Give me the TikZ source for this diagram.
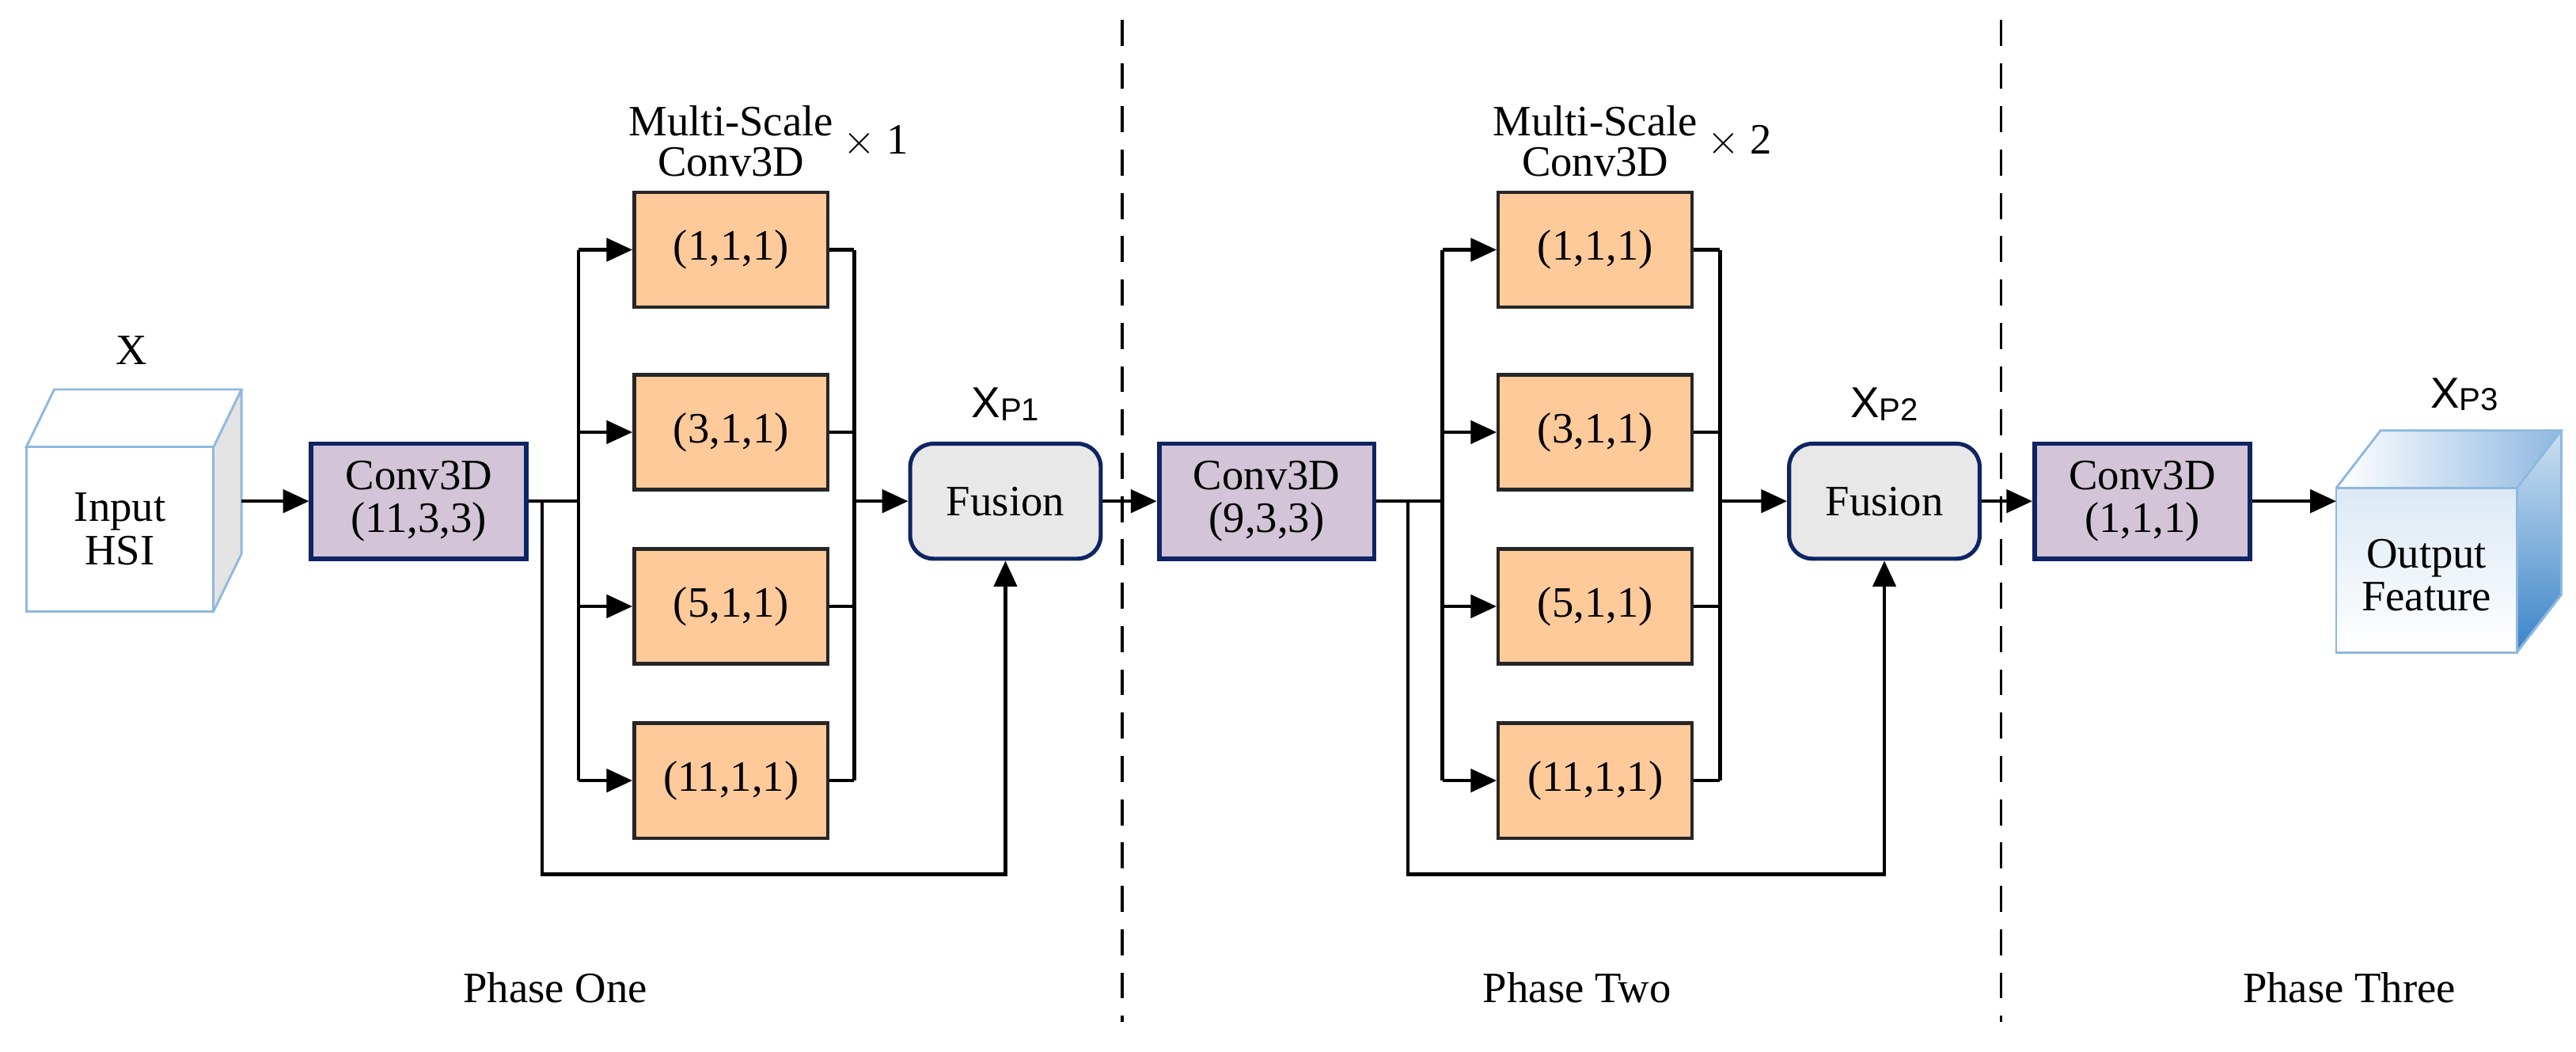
\documentclass[tikz,border=0pt]{standalone}
\usepackage{fontspec}
\setmainfont{Liberation Serif}
\newfontfamily\sansf{Liberation Sans}
\usetikzlibrary{arrows.meta,calc}
\definecolor{navy}{HTML}{0E2463}
\definecolor{purp}{HTML}{D3C4D7}
\definecolor{orng}{HTML}{FFCA99}
\definecolor{fusg}{HTML}{E8E8E8}
\definecolor{cubeb}{HTML}{8FB8E0}
\definecolor{deepb}{HTML}{3A84C8}
\tikzset{
 conv/.style={draw=navy,line width=1.6pt,fill=purp,minimum width=2.62cm,minimum height=1.4cm,align=center,font=\fontsize{15}{17}\selectfont,inner sep=0pt},
 ker/.style={draw=black!85,line width=1.2pt,fill=orng,minimum width=2.36cm,minimum height=1.4cm,font=\fontsize{15}{17}\selectfont,inner sep=0pt},
 fus/.style={draw=navy,line width=1.4pt,fill=fusg,rounded corners=8pt,minimum width=2.32cm,minimum height=1.4cm,font=\fontsize{15}{17}\selectfont,inner sep=0pt},
 ln/.style={line width=1.2pt},
 ar/.style={line width=1.2pt,-{Triangle[length=9pt,width=8pt]}},
 lbl/.style={font=\fontsize{15}{17}\selectfont,align=center},
 xl/.style={font=\sansf\fontsize{15}{17}\selectfont},
 dsh/.style={line width=1pt,dash pattern=on 9pt off 6pt},
}
\begin{document}
\begin{tikzpicture}[x=0.02cm,y=-0.02cm]
\useasboundingbox (0,0) rectangle (1568,640);
% input cube
\fill[gray!22] (130,272) -- (147,237) -- (147,337) -- (130,372) -- cycle;
\draw[cubeb,line width=0.8pt,fill=white] (16,272) -- (33,237) -- (147,237) -- (130,272) -- cycle;
\draw[cubeb,line width=0.8pt] (147,237) -- (147,337) -- (130,372);
\draw[cubeb,line width=0.8pt,fill=white] (16,272) rectangle (130,372);
\node[lbl] (inp) at (73,322) {Input\\[-2pt]HSI};
\node[lbl] (xx) at (80,213) {X};
% phase one
\node[conv] (c1) at (255,305) {Conv3D\\[-2pt](11,3,3)};
\foreach \n/\y/\t in {a/152/{(1,1,1)},b/263/{(3,1,1)},c/369/{(5,1,1)},d/475/{(11,1,1)}}{
  \node[ker] (k1\n) at (445,\y) {\t};
  \node[ker] (k2\n) at (971,\y) {\t};
}
\node[fus] (f1) at (612,305) {Fusion};
\node[xl] (xp1) at (612,246) {X\raisebox{-1pt}{\fontsize{11}{12}\selectfont P1}};
\node[lbl] (ms1) at (445,86) {Multi-Scale\\[-3pt]Conv3D};
\node[lbl] (t1) at (533,86) {$\times$ 1};
\coordinate (s1) at (352,305);
\coordinate (m1) at (520,305);
\coordinate (sk1) at (330,305);
\draw[ar] (147,305) -- (c1.west);
\draw[ln] (c1.east) -- (s1);
\draw[ln] (s1 |- k1a) -- (s1 |- k1d);
\draw[ln] (m1 |- k1a) -- (m1 |- k1d);
\foreach \n in {a,b,c,d}{
  \draw[ar] (s1 |- k1\n) -- (k1\n.west);
  \draw[ln] (k1\n.east) -- (m1 |- k1\n);
}
\draw[ar] (m1) -- (f1.west);
\draw[ar] (sk1) -- (sk1 |- 0,532) -- (f1.south |- 0,532) -- (f1.south);
% phase two
\node[conv] (c2) at (771,305) {Conv3D\\[-2pt](9,3,3)};
\node[fus] (f2) at (1147,305) {Fusion};
\node[xl] (xp2) at (1147,246) {X\raisebox{-1pt}{\fontsize{11}{12}\selectfont P2}};
\node[lbl] (ms2) at (971,86) {Multi-Scale\\[-3pt]Conv3D};
\node[lbl] (t2) at (1059,86) {$\times$ 2};
\coordinate (s2) at (878,305);
\coordinate (m2) at (1047,305);
\coordinate (sk2) at (857,305);
\draw[ar] (f1.east) -- (c2.west);
\draw[ln] (c2.east) -- (s2);
\draw[ln] (s2 |- k2a) -- (s2 |- k2d);
\draw[ln] (m2 |- k2a) -- (m2 |- k2d);
\foreach \n in {a,b,c,d}{
  \draw[ar] (s2 |- k2\n) -- (k2\n.west);
  \draw[ln] (k2\n.east) -- (m2 |- k2\n);
}
\draw[ar] (m2) -- (f2.west);
\draw[ar] (sk2) -- (sk2 |- 0,532) -- (f2.south |- 0,532) -- (f2.south);
% phase three
\node[conv] (c3) at (1304,305) {Conv3D\\[-2pt](1,1,1)};
\draw[ar] (f2.east) -- (c3.west);
% output cube
\shade[top color=deepb!18,bottom color=white] (1422,297) rectangle (1532,397);
\shade[left color=white,right color=cubeb] (1422,297) -- (1449,262) -- (1559,262) -- (1532,297) -- cycle;
\shade[top color=deepb!25,bottom color=deepb] (1532,297) -- (1559,262) -- (1559,362) -- (1532,397) -- cycle;
\draw[cubeb,line width=0.8pt] (1422,297) -- (1449,262) -- (1559,262) -- (1532,297);
\draw[cubeb,line width=0.8pt] (1559,262) -- (1559,362) -- (1532,397);
\draw[cubeb,line width=0.8pt] (1422,297) rectangle (1532,397);
\node[lbl] (outp) at (1477,350) {Output\\[-2pt]Feature};
\node[xl] (xp3) at (1500,240) {X\raisebox{-1pt}{\fontsize{11}{12}\selectfont P3}};
\coordinate (oin) at (1422,305);
\draw[ar] (c3.east) -- (oin);
% dashed separators
\draw[dsh] (683,12) -- (683,622);
\draw[dsh] (1218,12) -- (1218,622);
% phase labels
\node[lbl] (p1) at (338,601) {Phase One};
\node[lbl] (p2) at (960,601) {Phase Two};
\node[lbl] (p3) at (1430,601) {Phase Three};
\end{tikzpicture}
\end{document}
